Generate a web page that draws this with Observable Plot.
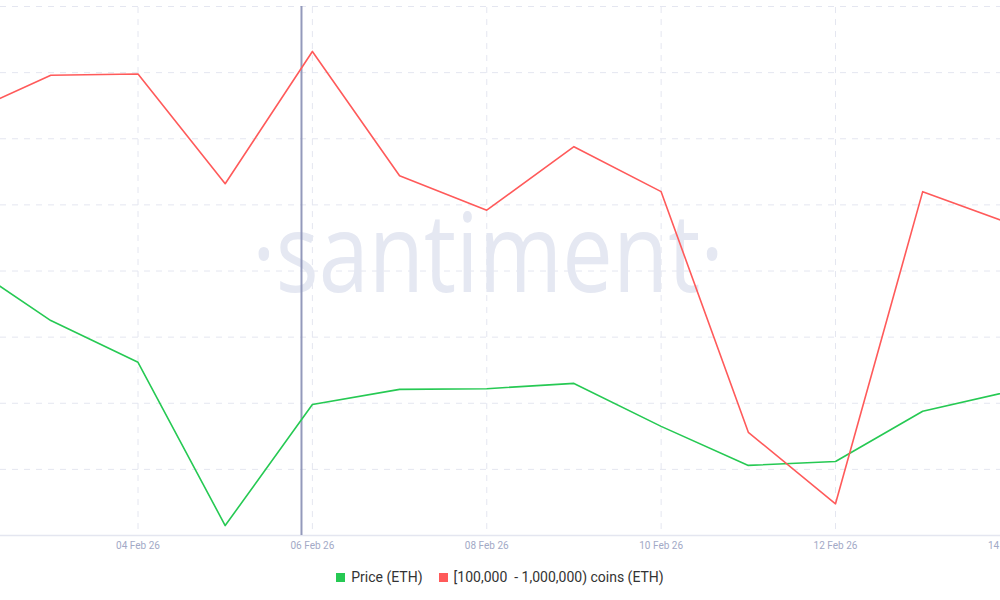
<!DOCTYPE html>
<html>
<head>
<meta charset="utf-8">
<script src="https://cdn.jsdelivr.net/npm/d3@7"></script>
<script src="https://cdn.jsdelivr.net/npm/@observablehq/plot@0.6"></script>
<style>
  html, body { margin: 0; padding: 0; background: #fff; overflow: hidden; width: 1000px; height: 600px; }
  #chart svg { overflow: visible; }
  #legend { display: flex; justify-content: center; align-items: center; gap: 16px;
    font-family: Roboto, "Open Sans", sans-serif; font-size: 14px; color: #333; height: 34px; margin-top: 0; white-space: pre; }
  .sw { display: inline-block; width: 9px; height: 9px; margin-right: 6px; vertical-align: 0px; }
</style>
</head>
<body>
<div id="chart"></div>
<div id="legend"></div>
<script>
// ---- data ----
const dates = ["2026-02-02","2026-02-03","2026-02-04","2026-02-05","2026-02-06","2026-02-07","2026-02-08",
               "2026-02-09","2026-02-10","2026-02-11","2026-02-12","2026-02-13","2026-02-14"];
const priceETH = [2214, 2125, 2062, 1815, 1998, 2021, 2022, 2030, 1965, 1906, 1912, 1988, 2018];
const whaleCoinsM = [21.59, 21.74, 21.745, 21.33, 21.83, 21.36, 21.23, 21.47, 21.30, 20.39, 20.12, 21.30, 21.18];
const priceRange = [1800, 2600];
const whaleRange = [20, 22];
const tickDates = ["2026-02-04","2026-02-06","2026-02-08","2026-02-10","2026-02-12","2026-02-14"];
const cursorDate = "2026-02-05T21:00Z";
const viewDomain = ["2026-02-02T10:09Z", "2026-02-13T21:25Z"];
const seriesNames = ["Price (ETH)", "[100,000  - 1,000,000) coins (ETH)"];
const seriesColors = ["#26c953", "#ff5a5a"];

const GRID = 8;
const norm = (v, r) => (v - r[0]) / (r[1] - r[0]) * GRID;
const rows = [];
dates.forEach((d, i) => {
  rows.push({date: new Date(d), s: seriesNames[0], v: norm(priceETH[i], priceRange)});
  rows.push({date: new Date(d), s: seriesNames[1], v: norm(whaleCoinsM[i], whaleRange)});
});
const ticks = tickDates.map(d => new Date(d));
const fmt = d3.utcFormat("%d %b %y");
const gridColor = "#e4e6f0";

const plot = Plot.plot({
  width: 1000,
  height: 560,
  marginLeft: 0,
  marginRight: 0,
  marginTop: 6,
  marginBottom: 25,
  x: {type: "utc", domain: viewDomain.map(d => new Date(d)), axis: null},
  y: {domain: [0, GRID], axis: null},
  color: {domain: seriesNames, range: seriesColors},
  style: {background: "transparent"},
  marks: [
    Plot.ruleY(d3.range(1, GRID + 1), {stroke: gridColor, strokeWidth: 1, strokeDasharray: "6,6"}),
    Plot.ruleX(ticks, {x: d => d, y1: 0.09, y2: GRID, stroke: gridColor, strokeWidth: 1, strokeDasharray: "6,6"}),
    Plot.ruleY([0], {stroke: "#e4e6f0", strokeWidth: 1.5}),
    Plot.text(ticks, {x: d => d, y: 0, dy: 10, text: d => fmt(d), fill: "#a2a9c6", fontSize: 10,
      fontFamily: "Roboto, sans-serif", textAnchor: "middle", lineAnchor: "middle"}),
    Plot.ruleX([new Date(cursorDate)], {y1: 0, y2: GRID, stroke: "#9399bb", strokeWidth: 2}),
    Plot.line(rows, {x: "date", y: "v", z: "s", stroke: "s", strokeWidth: 1.6, clip: true, curve: "linear"})
  ]
});
document.getElementById("chart").appendChild(plot);

// watermark behind the lines
const svg = d3.select(plot);
const lineG = svg.selectAll("g[aria-label=line]").node();
const wm = document.createElementNS("http://www.w3.org/2000/svg", "text");
lineG.parentNode.insertBefore(wm, svg.selectAll("g[aria-label=rule]").nodes()[3]);
d3.select(wm)
  .attr("x", 488).attr("y", 292)
  .attr("text-anchor", "middle")
  .attr("font-family", "'Open Sans', 'Noto Sans', sans-serif")
  .attr("font-weight", 400)
  .attr("font-size", 110)
  .attr("fill", "#e5e8f2")
  .attr("textLength", 472)
  .attr("lengthAdjust", "spacingAndGlyphs")
  .text("·santiment·");

// legend
const lg = d3.select("#legend");
seriesNames.forEach((n, i) => {
  const item = lg.append("span");
  item.append("span").attr("class", "sw").style("background", seriesColors[i]);
  item.append("span").text(n);
});
</script>
</body>
</html>
